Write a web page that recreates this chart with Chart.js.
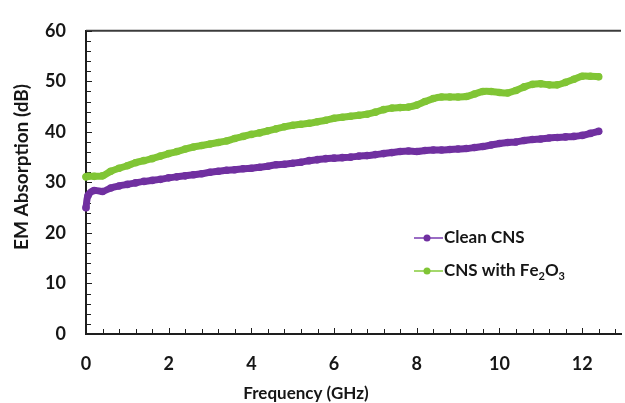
<!DOCTYPE html>
<html><head><meta charset="utf-8">
<script src="https://cdn.jsdelivr.net/npm/chart.js@4/dist/chart.umd.min.js"></script>
<style>html,body{margin:0;padding:0;background:#fff}canvas{display:block}</style>
</head><body>
<canvas id="c" width="625" height="403"></canvas>
<script>
// ---- data ----
const freq = [0, 0.05, 0.2, 0.4, 0.6, 0.8, 1.0, 1.2, 1.4, 1.6, 1.8, 2.0, 2.2, 2.4, 2.6, 2.8, 3.0, 3.2, 3.4, 3.6, 3.8,
  4.0, 4.2, 4.4, 4.6, 4.8, 5.0, 5.2, 5.4, 5.6, 5.8, 6.0, 6.2, 6.4, 6.6, 6.8, 7.0, 7.2, 7.4, 7.6, 7.8,
  8.0, 8.2, 8.4, 8.6, 8.8, 9.0, 9.2, 9.4, 9.6, 9.8, 10.0, 10.2, 10.4, 10.6, 10.8, 11.0, 11.2, 11.4, 11.6, 11.8,
  12.0, 12.2, 12.4];
const cleanCNS = [25.0, 27.4, 28.4, 28.2, 28.9, 29.3, 29.6, 29.9, 30.2, 30.4, 30.6, 30.9, 31.1, 31.3, 31.5, 31.7, 32.0, 32.2, 32.4, 32.5, 32.7,
  32.8, 33.0, 33.2, 33.5, 33.6, 33.8, 34.0, 34.3, 34.5, 34.7, 34.8, 34.9, 35.0, 35.2, 35.3, 35.5, 35.7, 35.9, 36.1, 36.2,
  36.1, 36.3, 36.4, 36.4, 36.5, 36.6, 36.7, 36.9, 37.1, 37.4, 37.7, 37.9, 38.0, 38.3, 38.5, 38.6, 38.8, 38.9, 39.0, 39.1,
  39.3, 39.7, 40.1];
const cnsFe2O3 = [31.1, 31.2, 31.2, 31.3, 32.2, 32.8, 33.3, 33.9, 34.3, 34.7, 35.2, 35.7, 36.1, 36.6, 37.0, 37.3, 37.6, 37.9, 38.2, 38.7, 39.1,
  39.5, 39.8, 40.2, 40.6, 41.0, 41.3, 41.5, 41.7, 42.0, 42.3, 42.7, 42.9, 43.1, 43.3, 43.5, 43.9, 44.4, 44.7, 44.8, 44.9,
  45.3, 46.0, 46.6, 46.9, 46.9, 46.9, 47.0, 47.5, 48.0, 48.0, 47.8, 47.7, 48.2, 48.9, 49.4, 49.5, 49.3, 49.3, 49.8, 50.4,
  51.0, 51.0, 50.9];
const seriesNames = ['Clean CNS', 'CNS with Fe\u2082O\u2083'];
const xTickLabels = [0, 2, 4, 6, 8, 10, 12];
const yTickLabels = [0, 10, 20, 30, 40, 50, 60];
const xTitle = 'Frequency (GHz)';
const yTitle = 'EM Absorption (dB)';

// ---- styles ----
const FONT = 'Lato';
const TEXT = '#161616';
const AXIS = '#1e1e1e';
const colors = ['#7030A0', '#80C535'];
const legendLine = ['#9a6cc4', '#a4d86c'];

function pts(ys) { return freq.map((f, i) => ({ x: f, y: ys[i] })); }

const decor = {
  id: 'decor',
  beforeDatasetsDraw(chart) {
    const { ctx, chartArea: a, scales: { x, y } } = chart;
    ctx.save();
    ctx.strokeStyle = '#3c3c3c'; ctx.lineWidth = 2;
    ctx.beginPath(); ctx.moveTo(a.left, a.top); ctx.lineTo(a.right, a.top); ctx.stroke();
    ctx.strokeStyle = AXIS; ctx.lineWidth = 1;
    for (let k = 0; k * 0.4 <= x.max + 1e-9; k++) {
      const v = k * 0.4;
      const px = Math.round(x.getPixelForValue(v)) + 0.5;
      const major = k % 5 === 0;
      ctx.beginPath(); ctx.moveTo(px, a.bottom); ctx.lineTo(px, a.bottom - (major ? 6 : 5)); ctx.stroke();
    }
    for (let k = 0; k * 2 <= y.max + 1e-9; k++) {
      const py = Math.round(y.getPixelForValue(k * 2)) + 0.5;
      const major = k % 5 === 0;
      ctx.beginPath(); ctx.moveTo(a.left, py); ctx.lineTo(a.left + (major ? 6 : 5), py); ctx.stroke();
    }
    ctx.restore();
  },
  afterDraw(chart) {
    const { ctx } = chart;
    ctx.save();
    ctx.fillStyle = TEXT;
    // axis titles
    ctx.textAlign = 'center'; ctx.textBaseline = 'alphabetic';
    ctx.font = `bold 17px ${FONT}`;
    ctx.fillText(xTitle, 306, 399);
    ctx.save();
    ctx.font = `bold 19px ${FONT}`;
    ctx.translate(28, 167); ctx.rotate(-Math.PI / 2);
    ctx.fillText(yTitle, 0, 0);
    ctx.restore();
    // legend
    const rows = [238, 271];
    seriesNames.forEach((name, i) => {
      const yy = rows[i];
      ctx.strokeStyle = legendLine[i]; ctx.lineWidth = 2;
      ctx.beginPath(); ctx.moveTo(414, yy); ctx.lineTo(443, yy); ctx.stroke();
      ctx.fillStyle = colors[i];
      ctx.beginPath(); ctx.arc(427, yy, 3.5, 0, Math.PI * 2); ctx.fill();
      ctx.fillStyle = TEXT; ctx.textAlign = 'left'; ctx.textBaseline = 'middle';
      let cx = 444;
      for (const ch of name) {
        const sub = '\u2080\u2081\u2082\u2083\u2084\u2085\u2086\u2087\u2088\u2089'.indexOf(ch);
        if (sub >= 0) {
          ctx.font = `bold 11px ${FONT}`;
          ctx.fillText(String(sub), cx, yy + 5);
          cx += ctx.measureText(String(sub)).width;
        } else {
          ctx.font = `bold 17px ${FONT}`;
          ctx.fillText(ch, cx, yy);
          cx += ctx.measureText(ch).width;
        }
      }
    });
    ctx.restore();
  }
};

function build() {
  new Chart(document.getElementById('c'), {
    type: 'line',
    data: {
      datasets: [cleanCNS, cnsFe2O3].map((ys, i) => ({
        label: seriesNames[i],
        data: pts(ys),
        borderColor: colors[i],
        backgroundColor: colors[i],
        borderWidth: 7,
        pointRadius: 3.8,
        pointBorderWidth: 0,
        pointBackgroundColor: colors[i],
        borderCapStyle: 'round',
        borderJoinStyle: 'round',
        tension: 0.3,
        clip: false
      }))
    },
    options: {
      responsive: false,
      animation: false,
      devicePixelRatio: 1,
      layout: { padding: { top: 20, right: 0, left: 0, bottom: 0 } },
      plugins: { legend: { display: false }, tooltip: { enabled: false } },
      scales: {
        x: {
          type: 'linear', min: 0, max: 12.94,
          afterBuildTicks: s => { s.ticks = xTickLabels.map(v => ({ value: v })); },
          afterFit: s => { s.height = 69; },
          grid: { display: false, drawTicks: false },
          border: { display: true, color: AXIS, width: 2 },
          ticks: { autoSkip: false, maxRotation: 0, padding: 19, color: TEXT, font: { family: FONT, size: 18, weight: 'bold' } }
        },
        y: {
          min: 0, max: 60,
          afterBuildTicks: s => { s.ticks = yTickLabels.map(v => ({ value: v })); },
          afterFit: s => { s.width = 86; },
          grid: { display: false, drawTicks: false },
          border: { display: true, color: AXIS, width: 2 },
          ticks: { padding: 20, color: TEXT, font: { family: FONT, size: 18, weight: 'bold' } }
        }
      }
    },
    plugins: [decor]
  });
}
document.fonts.load(`bold 16px ${FONT}`).then(build, build);
</script>
</body></html>
